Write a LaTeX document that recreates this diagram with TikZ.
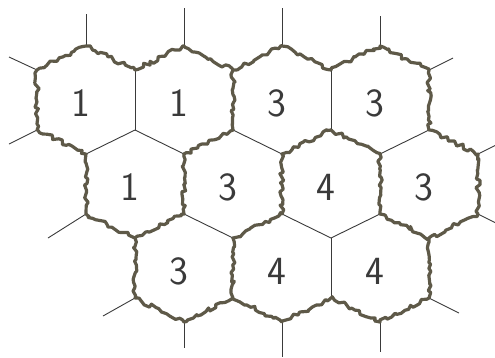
\documentclass[tikz,border=0pt]{standalone}
\usepackage{tikz}
\usetikzlibrary{calc,decorations.pathmorphing}
\definecolor{bordergray}{HTML}{5E5948}
\definecolor{inkgray}{HTML}{3A3A3A}

\begin{document}
\begin{tikzpicture}[x=1pt, y=-1pt,
    thin edge/.style={draw=inkgray, line width=0.9pt},
    wavy edge/.style={draw=bordergray, line width=3.2pt, line cap=round, line join=round,
      decorate, decoration={random steps, segment length=3.5pt, amplitude=2.2pt}},
    every node/.style={font=\sffamily\fontsize{40}{40}\selectfont, text=inkgray}]
  \pgfmathsetseed{7}
  \useasboundingbox (0,0) rectangle (495,357);

  % centres and corners of the hexagons
  \foreach \r/\c in {0/0,0/1,0/2,0/3,1/0,1/1,1/2,1/3,2/0,2/1,2/2} {
    \coordinate (h\r\c) at ({86+49*\r+98*\c},{100+84*\r});
    \coordinate (h\r\c-t)  at ($(h\r\c)+(0,-54)$);
    \coordinate (h\r\c-ur) at ($(h\r\c)+(49,-30)$);
    \coordinate (h\r\c-lr) at ($(h\r\c)+(49,30)$);
    \coordinate (h\r\c-b)  at ($(h\r\c)+(0,54)$);
    \coordinate (h\r\c-ll) at ($(h\r\c)+(-49,30)$);
    \coordinate (h\r\c-ul) at ($(h\r\c)+(-49,-30)$);
  }

  % sides inside one region
  \draw[thin edge] (h00-ur) -- (h00-lr);
  \draw[thin edge] (h02-ur) -- (h02-lr);
  \draw[thin edge] (h21-ur) -- (h21-lr);
  \draw[thin edge] (h00-b) -- (h00-lr);
  \draw[thin edge] (h01-ll) -- (h01-b);
  \draw[thin edge] (h02-ll) -- (h02-b);
  \draw[thin edge] (h03-b) -- (h03-lr);
  \draw[thin edge] (h11-ll) -- (h11-b);
  \draw[thin edge] (h12-ll) -- (h12-b);
  \draw[thin edge] (h12-b) -- (h12-lr);

  % stubs going out
  \foreach \v/\dx/\dy [count=\k] in {h00-t/0/-32, h01-t/0/-38, h02-t/0/-38, h03-t/0/-30,
      h00-ul/-28/-13, h00-ll/-28/14, h10-ll/-38/24, h20-ll/-32/18,
      h20-b/0/26, h21-b/0/35, h22-b/0/30, h22-lr/30/15,
      h13-lr/20/10, h13-ur/20/-10, h03-ur/24/-12} {
    \coordinate (stub\k) at ($(\v)+(\dx,\dy)$);
    \draw[thin edge] (\v) -- (stub\k);
  }

  % outer border
  \draw[wavy edge] (h00-ul) -- (h00-t) -- (h00-ur) -- (h01-t) -- (h01-ur) -- (h02-t)
    -- (h02-ur) -- (h03-t) -- (h03-ur) -- (h03-lr) -- (h13-ur) -- (h13-lr) -- (h13-b)
    -- (h22-lr) -- (h22-b) -- (h22-ll) -- (h21-b) -- (h21-ll) -- (h20-b) -- (h20-ll)
    -- (h20-ul) -- (h10-ll) -- (h10-ul) -- (h00-ll) -- cycle;

  % borders between regions
  \draw[wavy edge] (h01-ur) -- (h01-lr);
  \draw[wavy edge] (h10-ur) -- (h10-lr);
  \draw[wavy edge] (h11-ur) -- (h11-lr);
  \draw[wavy edge] (h12-ur) -- (h12-lr);
  \draw[wavy edge] (h20-ur) -- (h20-lr);
  \draw[wavy edge] (h01-b) -- (h01-lr);
  \draw[wavy edge] (h02-b) -- (h02-lr);
  \draw[wavy edge] (h03-ll) -- (h03-b);
  \draw[wavy edge] (h10-b) -- (h10-lr);
  \draw[wavy edge] (h11-b) -- (h11-lr);
  \draw[wavy edge] (h13-ll) -- (h13-b);

  % numbers
  \foreach \r/\c/\n in {0/0/1,0/1/1,0/2/3,0/3/3,1/0/1,1/1/3,1/2/4,1/3/3,2/0/3,2/1/4,2/2/4} {
    \node (lab\r\c) at ($(h\r\c)+(-5,3)$) {\n};
  }
\end{tikzpicture}
\end{document}
